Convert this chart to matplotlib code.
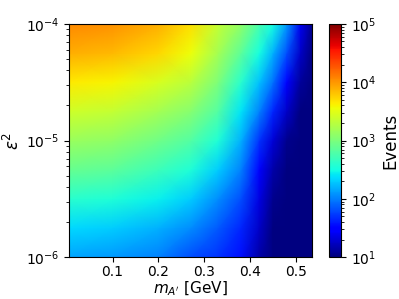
import numpy as np
import matplotlib
matplotlib.use("Agg")
import matplotlib.pyplot as plt
from matplotlib.colors import LogNorm

# A' mass grid [GeV] and log10(eps^2) grid
masses = [0.005, 0.1, 0.2, 0.27, 0.33, 0.38, 0.42, 0.45, 0.48, 0.51, 0.535]
log_eps2 = [-6.0, -5.75, -5.5, -5.25, -5.0, -4.75, -4.5, -4.25, -4.0]

# log10(events), one row per eps^2 value (bottom to top)
log_events = [
    [2.15, 2.1, 2.0, 1.8, 1.7, 1.55, 1.15, 1.0, 1.0, 1.0, 1.0],
    [2.35, 2.3, 2.2, 2.05, 1.85, 1.65, 1.25, 1.0, 1.0, 1.0, 1.0],
    [2.6, 2.55, 2.45, 2.3, 2.05, 1.8, 1.35, 1.05, 1.0, 1.0, 1.0],
    [2.9, 2.85, 2.7, 2.55, 2.3, 2.0, 1.5, 1.15, 1.0, 1.0, 1.0],
    [3.15, 3.1, 2.95, 2.8, 2.55, 2.2, 1.7, 1.3, 1.05, 1.0, 1.0],
    [3.4, 3.35, 3.2, 3.05, 2.8, 2.4, 2.0, 1.65, 1.25, 1.0, 1.0],
    [3.65, 3.6, 3.45, 3.3, 3.0, 2.6, 2.25, 1.95, 1.5, 1.1, 1.0],
    [3.9, 3.85, 3.72, 3.55, 3.2, 2.85, 2.5, 2.2, 1.8, 1.25, 1.0],
    [4.05, 4.02, 3.9, 3.7, 3.35, 3.1, 2.75, 2.5, 2.1, 1.4, 1.05],
]

events = 10 ** np.array(log_events)
X, Y = np.meshgrid(masses, 10 ** np.array(log_eps2))

fig = plt.figure(figsize=(3.99, 2.99), dpi=100)
ax = fig.add_axes([0.173, 0.14, 0.609, 0.78])
cax = fig.add_axes([0.825, 0.14, 0.030, 0.78])

mesh = ax.pcolormesh(X, Y, events, shading="gouraud", cmap="jet",
                     norm=LogNorm(vmin=1e1, vmax=1e5))
ax.set_yscale("log")
ax.set_xlim(0.005, 0.535)
ax.set_ylim(1e-6, 1e-4)
ax.set_xticks([0.1, 0.2, 0.3, 0.4, 0.5])
ax.set_xlabel(r"$m_{A'}$ [GeV]", fontsize=11, labelpad=0.5)
ax.set_ylabel(r"$\varepsilon^2$", fontsize=12, labelpad=2)
ax.tick_params(labelsize=10)
ax.tick_params(axis="x", pad=2)

cb = fig.colorbar(mesh, cax=cax)
cb.set_label("Events", fontsize=12)
cb.ax.tick_params(labelsize=10)

fig.savefig("out.png", dpi=100)
